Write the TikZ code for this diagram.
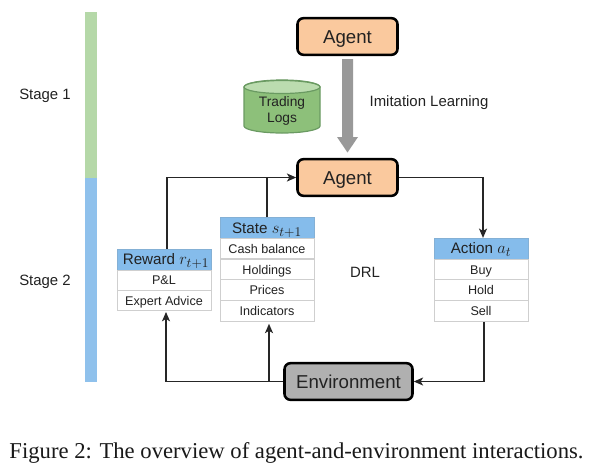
\RequirePackage{fix-cm}
\documentclass[tikz,border=0pt]{standalone}
\usepackage{fontspec}
\setmainfont{Liberation Sans}
\newfontfamily\capfont{Liberation Serif}
\DeclareMathSizes{11.4}{12.4}{10}{8}
\usetikzlibrary{arrows.meta,shapes.geometric,calc}
\definecolor{orangefill}{HTML}{FAC99E}
\definecolor{headblue}{HTML}{85BCEB}
\definecolor{barblue}{HTML}{8FC1EC}
\definecolor{bargreen}{HTML}{B5D8A8}
\definecolor{cylgreen}{HTML}{8DC07A}
\definecolor{cyltop}{HTML}{BBDCAF}
\definecolor{cylline}{HTML}{6A9A62}
\definecolor{envgray}{HTML}{B0B0B0}
\definecolor{arrgray}{HTML}{999999}
\definecolor{cellline}{HTML}{CFCFCF}
\definecolor{inktext}{HTML}{222222}
\tikzset{
  x=0.75pt,y=-0.75pt,
  every node/.style={text=inktext},
  mainbox/.style={draw=black,line width=1.9pt,rounded corners=4.5pt,font=\fontsize{14}{16}\selectfont,minimum width=75pt,minimum height=27.5pt,inner sep=0pt,text height=10pt,text depth=0pt},
  headcell/.style={fill=headblue,draw=headblue!80!gray,line width=0.4pt,minimum width=70.5pt,minimum height=15.5pt,inner sep=0pt,font=\fontsize{11.4}{13}\selectfont,text height=8.2pt,text depth=0pt},
  bodycell/.style={fill=white,draw=cellline,line width=0.7pt,minimum width=70.5pt,minimum height=15.5pt,inner sep=0pt,font=\fontsize{9.45}{11}\selectfont,text height=6.8pt,text depth=0pt},
  plain/.style={font=\fontsize{11.2}{13}\selectfont,inner sep=0pt,text height=8pt,text depth=0pt},
  conn/.style={draw=black!85,line width=1.1pt,-{Stealth[length=7pt,width=6pt,inset=1.8pt]}},
  thinconn/.style={draw=black!85,line width=0.9pt,-{Stealth[length=7pt,width=6pt,inset=1.8pt]}},
  stub/.style={draw=black!85,line width=1.6pt},
}
\begin{document}
\begin{tikzpicture}
\useasboundingbox (0,0) rectangle (591,469);
\fill[white] (0,0) rectangle (591,469);
% stage bars
\fill[bargreen] (85,12) rectangle (97,178);
\fill[barblue] (85,178) rectangle (97,382);
\node[plain] (s1) at (45,94.5) {Stage 1};
\node[plain] (s2) at (45,280.5) {Stage 2};
% agents
\node[mainbox,fill=orangefill] (agentA) at (347.5,36.5) {Agent};
\node[mainbox,fill=orangefill] (agentB) at (347.5,177.5) {Agent};
\node[mainbox,fill=envgray,minimum width=96pt] (env) at (348.5,381.5) {Environment};
% imitation arrow
\fill[arrgray] (342,59) -- (353,59) -- (353,137) -- (358,137) -- (347.5,152.5) -- (337,137) -- (342,137) -- cycle;
\node[plain] (il) at (429,101) {Imitation Learning};
% cylinder
\draw[cylline,line width=0.9pt,fill=cylgreen] (244,87) -- (244,126) arc[start angle=180,end angle=360,x radius=38,y radius=-7] -- (320,87) arc[start angle=0,end angle=180,x radius=38,y radius=-7];
\draw[cylline,line width=0.9pt,fill=cyltop] (282,87) ellipse[x radius=38,y radius=6.5];
\node[align=center,inner sep=0pt,font=\fontsize{10.3}{12}\selectfont] (logs) at (282,111) {Trading\\Logs};
% tables
\node[headcell] (rh) at (164,259.5) {\hspace*{3pt}Reward $r_{t+1}$};
\node[bodycell,minimum height=15pt] (r1) at (164,280) {P\&L};
\node[bodycell,minimum height=15pt] (r2) at (164,300.5) {Expert Advice};
\node[headcell] (sh) at (267,228) {State $s_{t+1}$};
\node[bodycell] (s3) at (267,248.5) {Cash balance};
\node[bodycell] (s4) at (267,269.5) {Holdings};
\node[bodycell] (s5) at (267,290) {Prices};
\node[bodycell] (s6) at (267,311) {Indicators};
\node[headcell] (ah) at (481,248.5) {Action $a_t$};
\node[bodycell] (a1) at (481,269.5) {Buy};
\node[bodycell] (a2) at (481,290) {Hold};
\node[bodycell] (a3) at (481,311) {Sell};
\node[plain] (drl) at (365,272.5) {DRL};
% connector anchors
\coordinate (rtop) at ($(rh.north)+(3,0)$);
\coordinate (atop) at ($(ah.north)+(2,0)$);
\coordinate (abot) at ($(a3.south)+(3,0)$);
\coordinate (rbot) at ($(r2.south)+(2,1)$);
\coordinate (sbot) at ($(s6.south)+(2,2)$);
% connectors
\draw[conn] (rtop) |- (agentB.west);
\draw[stub] (sh.north) -- (sh.north |- agentB.west);
\draw[conn] (agentB.east) -| (atop);
\draw[thinconn] (abot) |- (env.east);
\draw[conn] (env.west) -| (rbot);
\draw[conn] (sbot |- env.west) -- (sbot);
% caption
\node[inner sep=0pt,font=\capfont\fontsize{17}{20}\selectfont,text=black!90,text height=11.5pt,text depth=0pt] (cap) at (296.5,451) {Figure 2: The overview of agent-and-environment interactions.};
\end{tikzpicture}
\end{document}
